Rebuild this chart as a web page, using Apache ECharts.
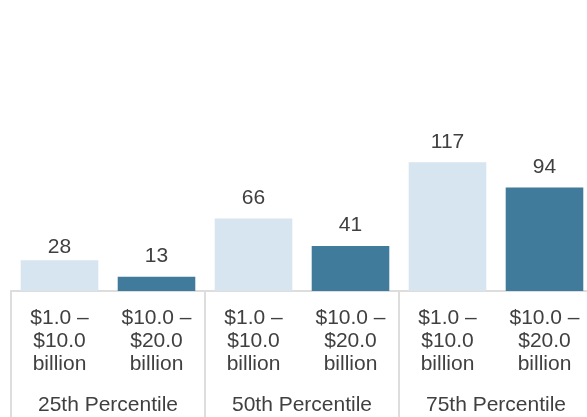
<!DOCTYPE html>
<html>
<head>
    <meta charset="UTF-8">
    <title>Percentile bars</title>
    <script src="https://cdn.jsdelivr.net/npm/echarts@6/dist/echarts.min.js"></script>
    <style>
        html, body { margin: 0; height: 100%; background: #fff; }
        #main { width: 587px; height: 417px; }
    </style>
</head>
<body>
    <div id="main"></div>
    <script>
        // 数据
        var sizeLabels = ['$1.0 –\n$10.0\nbillion', '$10.0 –\n$20.0\nbillion',
                          '$1.0 –\n$10.0\nbillion', '$10.0 –\n$20.0\nbillion',
                          '$1.0 –\n$10.0\nbillion', '$10.0 –\n$20.0\nbillion'];
        var groupLabels = ['25th Percentile', '50th Percentile', '75th Percentile'];
        var values = [28, 13, 66, 41, 117, 94];

        var palette = ['#d6e5ef', '#417b9b'];
        var gray = '#dddddd';
        var textColor = '#404040';
        var fontFamily = 'Liberation Sans, Arial, sans-serif';

        var barData = values.map(function (v, i) {
            var item = { value: v, itemStyle: { color: palette[i % 2] } };
            if (i === 0) item.label = { distance: 2 };
            return item;
        });

        var option = {
            animation: false,
            // 右侧超出画布一点，与原图一致
            grid: { left: 11, width: 582, top: 71, bottom: 126, outerBoundsMode: 'none' },
            xAxis: [{
                type: 'category',
                data: sizeLabels,
                axisLine: { lineStyle: { color: gray, width: 2 } },
                axisTick: { show: false },
                axisLabel: {
                    margin: 16,
                    color: textColor,
                    fontSize: 21,
                    lineHeight: 23,
                    fontFamily: fontFamily,
                    interval: 0
                }
            }, {
                type: 'category',
                data: groupLabels,
                position: 'bottom',
                axisLine: { show: false },
                axisTick: { show: true, length: 130, lineStyle: { color: gray, width: 2 } },
                axisLabel: {
                    margin: 104,
                    color: textColor,
                    fontSize: 21,
                    fontFamily: fontFamily,
                    interval: 0
                }
            }],
            yAxis: {
                type: 'value',
                min: 0,
                max: 200,
                show: false,
                splitLine: { show: false }
            },
            series: [{
                type: 'bar',
                data: barData,
                barWidth: '80%',
                label: {
                    show: true,
                    position: 'top',
                    distance: 10,
                    color: textColor,
                    fontSize: 21,
                    fontFamily: fontFamily
                }
            }]
        };

        var myChart = echarts.init(document.getElementById('main'));
        myChart.setOption(option);
    </script>
</body>
</html>
